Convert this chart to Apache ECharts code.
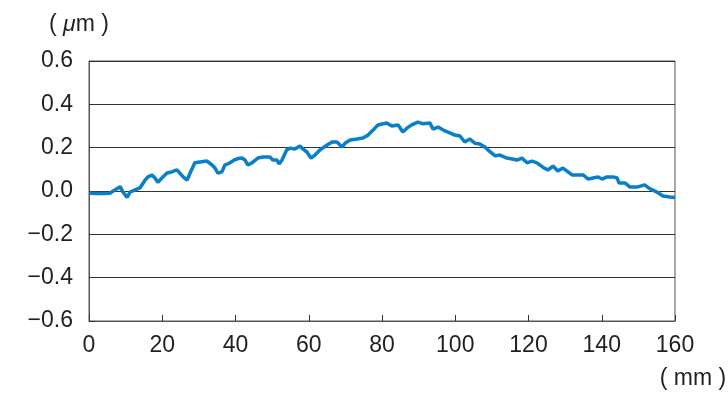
<!DOCTYPE html>
<html>
<head>
<meta charset="utf-8">
<script src="https://cdn.jsdelivr.net/npm/echarts@6/dist/echarts.min.js"></script>
<style>
  html, body { margin: 0; padding: 0; background: #fff; }
  #chart { width: 728px; height: 394px; }
</style>
</head>
<body>
<div id="chart"></div>
<script>
// 位置 (mm)
var posMm = [
    0, 2, 4, 5.7, 6.6, 8.5, 9.3, 10.4, 11.2, 12.6, 13.9, 15.3, 16.1, 17.2, 18.0, 18.8, 19.9,
    21.3, 22.6, 24.0, 24.8, 25.7, 26.8, 27.6, 28.9, 30.3, 32.2, 33.6, 34.4, 35.2, 36.3, 37.1,
    38.5, 39.9, 40.8, 41.8, 42.6, 43.4, 44.5, 46.1, 47.5, 49.4, 50.2, 51.3, 51.9, 52.7, 54.0,
    54.9, 56.2, 57.6, 58.4, 59.5, 60.6, 61.7, 63.1, 65.0, 66.4, 67.7, 69.1, 69.9, 71.3, 73.2,
    74.8, 76.2, 77.5, 78.9, 80.3, 81.3, 82.7, 84.4, 85.7, 86.8, 88.1, 89.8, 91.2, 93.1, 93.9,
    95.3, 97.2, 98.5, 99.9, 101.3, 102.6, 104.0, 105.4, 106.7, 108.1, 108.9, 110.9, 112.2,
    114.1, 115.5, 116.9, 118.2, 119.6, 120.9, 122.3, 123.9, 125.3, 126.7, 128.0, 129.4,
    130.8, 131.9, 133.2, 134.9, 136.3, 137.6, 139.0, 140.1, 141.4, 143.1, 144.2, 144.7,
    146.4, 147.7, 149.6, 151.7, 153.2, 155.1, 156.7, 158.6, 160
];
// 真直度 (µm)
var devUm = [
    -0.01, -0.012, -0.012, -0.01, 0.0, 0.02, -0.005, -0.03, -0.005, 0.005, 0.014, 0.05, 0.065, 0.074, 0.06, 0.04, 0.06,
    0.083, 0.088, 0.097, 0.083, 0.065, 0.05, 0.083, 0.13, 0.134, 0.138, 0.12, 0.106, 0.083, 0.088, 0.12,
    0.13, 0.145, 0.15, 0.152, 0.143, 0.12, 0.13, 0.152, 0.157, 0.157, 0.143, 0.143, 0.125, 0.143, 0.19,
    0.198, 0.194, 0.208, 0.194, 0.18, 0.152, 0.166, 0.19, 0.212, 0.226, 0.226, 0.203, 0.22, 0.235, 0.24,
    0.245, 0.258, 0.28, 0.305, 0.31, 0.314, 0.3, 0.305, 0.272, 0.29, 0.305, 0.318, 0.31, 0.314, 0.286,
    0.295, 0.277, 0.268, 0.258, 0.254, 0.226, 0.24, 0.22, 0.217, 0.203, 0.19, 0.162, 0.166,
    0.152, 0.148, 0.143, 0.152, 0.13, 0.138, 0.13, 0.11, 0.097, 0.115, 0.092, 0.106,
    0.088, 0.074, 0.074, 0.074, 0.055, 0.06, 0.065, 0.055, 0.065, 0.065, 0.06, 0.037,
    0.037, 0.018, 0.018, 0.028, 0.01, -0.005, -0.023, -0.028, -0.03
];
var xTicks = [0, 20, 40, 60, 80, 100, 120, 140, 160];
var yTicks = [-0.6, -0.4, -0.2, 0.0, 0.2, 0.4, 0.6];

var font = "'Liberation Sans', Arial, sans-serif";

var myChart = echarts.init(document.getElementById('chart'), null, { renderer: 'canvas' });

var lineData = posMm.map(function (x, i) { return [x, devUm[i]]; });

option = {
    backgroundColor: '#fff',
    animation: false,
    grid: {
        left: 89,
        right: 53,
        top: 61,
        bottom: 73,
        show: true,
        borderColor: '#555',
        borderWidth: 1
    },
    xAxis: {
        type: 'value',
        min: xTicks[0],
        max: xTicks[xTicks.length - 1],
        interval: 20,
        axisLine: { show: true, onZero: false, lineStyle: { color: '#555', width: 1 } },
        axisTick: { show: true, inside: true, length: 6, lineStyle: { color: '#333' } },
        splitLine: { show: false },
        axisLabel: {
            margin: 13,
            fontSize: 23,
            fontFamily: font,
            color: '#231f20'
        }
    },
    yAxis: {
        type: 'value',
        min: yTicks[0],
        max: yTicks[yTicks.length - 1],
        interval: 0.2,
        axisLine: { show: true, lineStyle: { color: '#555', width: 1 } },
        axisTick: { show: true, inside: true, length: 6, lineStyle: { color: '#333' } },
        splitLine: { show: true, lineStyle: { color: '#333', width: 1 } },
        axisLabel: {
            margin: 16,
            fontSize: 23,
            fontFamily: font,
            color: '#231f20',
            padding: [0, 0, 9, 0],
            formatter: function (v) {
                if (Math.abs(v) < 1e-9) return '0.0';
                var s = Math.abs(v).toFixed(1);
                return v < 0 ? '\u2212' + s : s;
            }
        }
    },
    graphic: [
        {
            type: 'text',
            x: 79,
            y: 25,
            style: {
                text: '( {i|\u03bc}m )',
                fontSize: 23,
                fontFamily: font,
                fill: '#231f20',
                align: 'center',
                verticalAlign: 'middle',
                rich: {
                    i: { fontStyle: 'italic', fontSize: 23, fontFamily: font, fill: '#231f20' }
                }
            }
        },
        {
            type: 'text',
            x: 693,
            y: 379,
            style: {
                text: '( mm )',
                fontSize: 23,
                fontFamily: font,
                fill: '#231f20',
                align: 'center',
                verticalAlign: 'middle'
            }
        }
    ],
    series: [
        {
            type: 'line',
            data: lineData,
            showSymbol: false,
            smooth: false,
            lineStyle: { color: '#0a7fc9', width: 3.5 },
            clip: true
        }
    ]
};
myChart.setOption(option);
</script>
</body>
</html>
